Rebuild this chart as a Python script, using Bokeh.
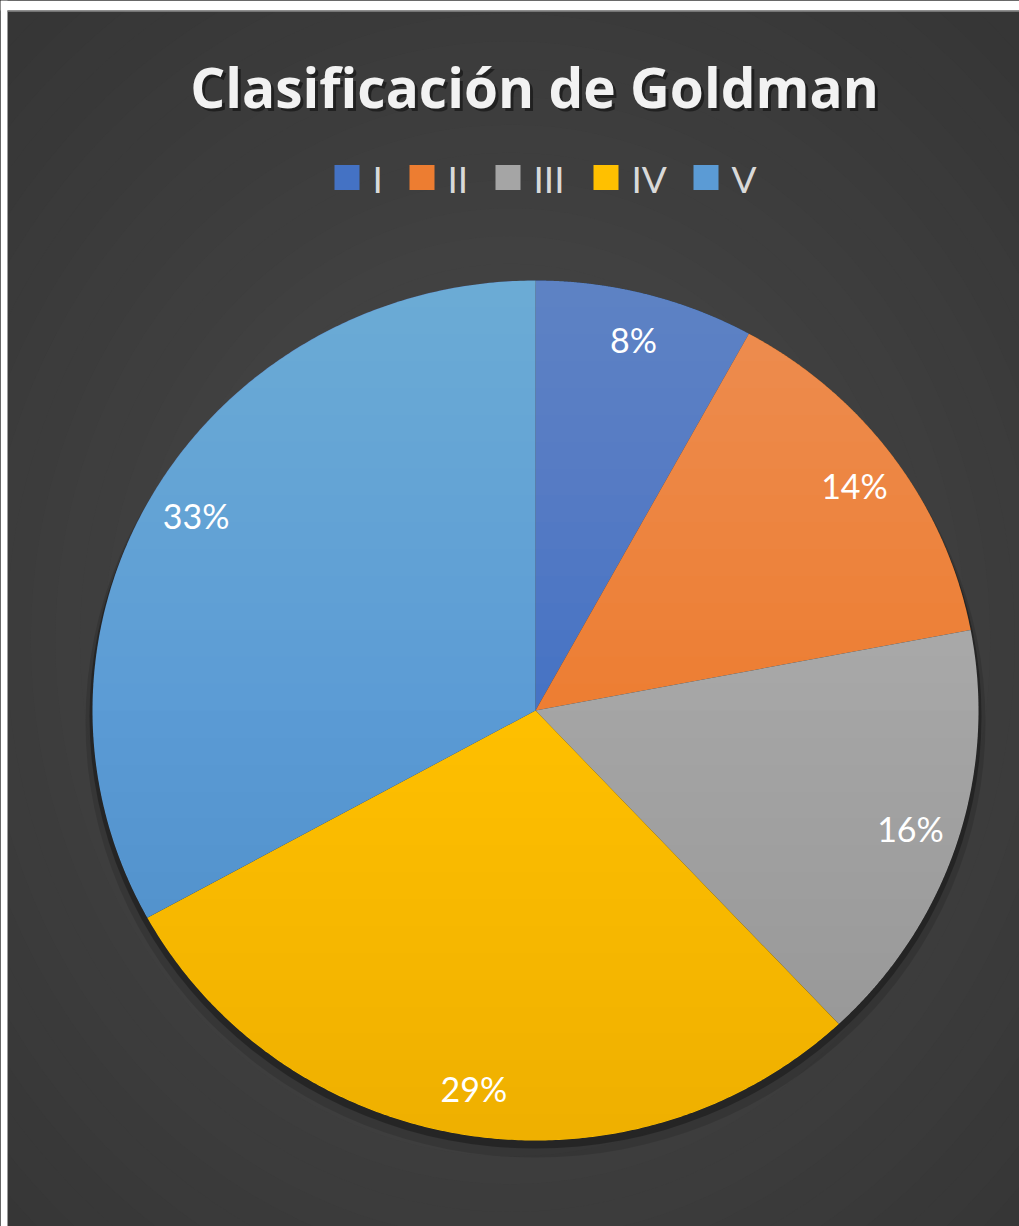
import numpy as np
from bokeh.plotting import figure
from bokeh.models import Range1d
from bokeh.core.properties import value
from bokeh.embed import file_html
from bokeh.resources import INLINE

# ---------------- data ----------------
title = "Clasificación de Goldman"
categories = ["I", "II", "III", "IV", "V"]
percents = [8, 14, 16, 29, 33]
colors = ["#4472C4", "#ED7D31", "#A5A5A5", "#FFC000", "#5B9BD5"]
label_texts = [f"{v}%" for v in percents]

# ---------------- layout ----------------
W, H = 1019, 1226
CX, CY, RX, RY = 535, 710, 443, 430
LABEL_F = 0.89
FONT = "Lato"
TITLE_FONT = "Open Sans"

p = figure(width=W, height=H, x_range=Range1d(0, W), y_range=Range1d(H, 0),
           output_backend="svg", toolbar_location=None,
           x_axis_type=None, y_axis_type=None,
           min_border=0, min_border_left=0, min_border_right=0,
           min_border_top=0, min_border_bottom=0,
           outline_line_color=None, background_fill_color="#363636",
           border_fill_color="#363636")
p.grid.visible = False

# radial background
n_bg = 30
for i in range(n_bg):
    t = i / (n_bg - 1)
    s = 1.0 - 0.95 * t
    c0 = np.array([0x36, 0x36, 0x36])
    c1 = np.array([0x4a, 0x4a, 0x4a])
    c = (c0 + (c1 - c0) * t).astype(int)
    p.ellipse(x=[510], y=[640], width=[1500 * s], height=[1700 * s],
              fill_color="#%02x%02x%02x" % tuple(c), line_color=None)

# shadow
p.ellipse(x=[CX], y=[CY + 12], width=[2 * RX + 14], height=[2 * RY + 10],
          fill_color="black", fill_alpha=0.12, line_color=None)
p.ellipse(x=[CX], y=[CY + 6], width=[2 * RX + 6], height=[2 * RY + 4],
          fill_color="black", fill_alpha=0.3, line_color=None)

# pie slices
total = float(sum(percents))
cum = np.concatenate([[0.0], np.cumsum(percents)]) / total * 2 * np.pi
xs, ys = [], []
for a0, a1 in zip(cum[:-1], cum[1:]):
    t = np.linspace(a0, a1, 240)
    xs.append([CX] + list(CX + RX * np.sin(t)))
    ys.append([CY] + list(CY - RY * np.cos(t)))
p.patches(xs=xs, ys=ys, fill_color=colors, line_color=None)

# vertical gradient overlay (lighter top, darker bottom)
N = 16
for k in range(1, N + 1):
    yk = (CY - RY) + k * RY / N
    phik = np.arccos(np.clip((CY - yk) / RY, -1, 1))
    ph = np.linspace(-phik, phik, 200)
    p.patch(x=CX + RX * np.sin(ph), y=CY - RY * np.cos(ph),
            fill_color="white", fill_alpha=0.011, line_color=None)
for k in range(0, N):
    yk = CY + k * RY / N
    psik = np.arccos(np.clip((yk - CY) / RY, -1, 1))
    ph = np.linspace(np.pi - psik, np.pi + psik, 200)
    p.patch(x=CX + RX * np.sin(ph), y=CY - RY * np.cos(ph),
            fill_color="black", fill_alpha=0.005, line_color=None)

# data labels
mids = (cum[:-1] + cum[1:]) / 2
lx = CX + LABEL_F * RX * np.sin(mids)
ly = CY - LABEL_F * RY * np.cos(mids)
p.text(x=lx, y=ly, text=label_texts, text_font=value(FONT),
       text_font_size="34px", text_color="white",
       text_align="center", text_baseline="middle")

# title with shadow
p.text(x=[537], y=[89], text=[title], text_font=value(TITLE_FONT),
       text_font_style="bold", text_font_size="55px", text_color="black",
       text_alpha=0.45, text_align="center", text_baseline="alphabetic")
p.text(x=[534], y=[86], text=[title], text_font=value(TITLE_FONT),
       text_font_style="bold", text_font_size="55px", text_color="#f2f2f2",
       text_align="center", text_baseline="alphabetic")

# legend
legend_x = [334, 409, 495, 593, 693]
LEG_Y = 177
p.rect(x=[v + 12.5 for v in legend_x], y=[LEG_Y] * 5, width=25, height=25,
       fill_color=colors, line_color=None)
p.text(x=[v + 38 for v in legend_x], y=[LEG_Y + 1] * 5, text=categories,
       text_font=value(FONT), text_font_size="37px", text_color="#d9d9d9",
       text_align="left", text_baseline="middle")

# white frame strips of the picture
p.quad(left=[0, 0], right=[W, 7], top=[0, 0], bottom=[10, H],
       fill_color="white", line_color=None)
p.segment(x0=[7], y0=[10.5], x1=[W], y1=[10.5], line_color="#8a8a8a", line_width=1.5)

html = file_html(p, INLINE)
html = html.replace("<head>", "<head><style>html,body{margin:0;padding:0;background:#3a3a3a;overflow:hidden}</style>", 1)
open("out.html", "w").write(html)
